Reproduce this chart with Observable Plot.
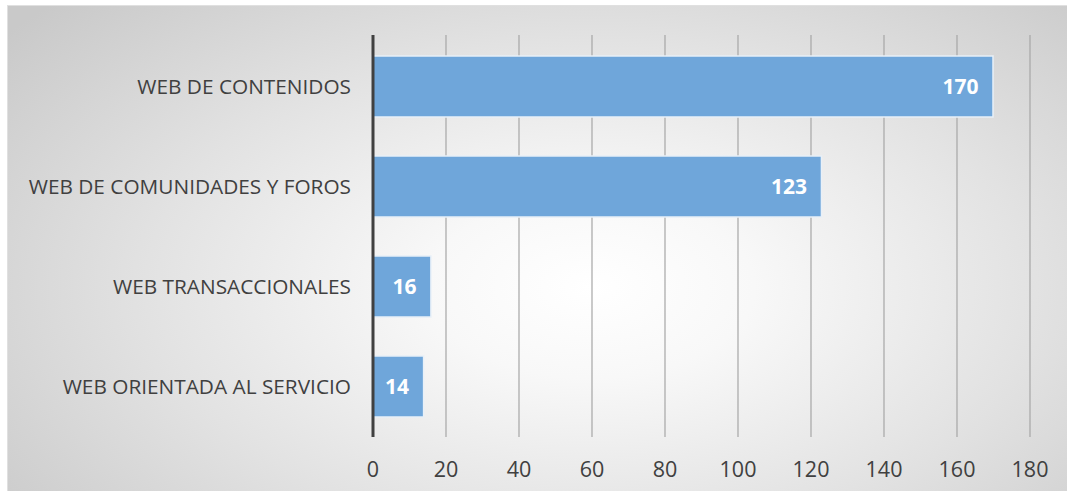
<!DOCTYPE html>
<html>
<head>
<meta charset="utf-8">
<script src="https://cdn.jsdelivr.net/npm/d3@7"></script>
<script src="https://cdn.jsdelivr.net/npm/@observablehq/plot@0.6"></script>
<style>
  html, body { margin: 0; padding: 0; background: #ffffff; }
  #wrap { position: relative; width: 1067px; height: 498px; overflow: hidden; }
  #bg {
    position: absolute; left: 7px; top: 5px; width: 1060px; height: 485px;
    background: radial-gradient(ellipse 70% 85% at 55% 58%, #ffffff 0%, #f8f8f8 22%, #e2e2e2 60%, #c9c9c9 100%);
    border-top: 1px solid #e0e0e0; border-left: 1px solid #e0e0e0;
  }
  #chart { position: absolute; left: 0; top: 0; }
</style>
</head>
<body>
<div id="wrap"><div id="bg"></div><div id="chart"></div></div>
<script>
const categories = ["WEB DE CONTENIDOS", "WEB DE COMUNIDADES Y FOROS", "WEB TRANSACCIONALES", "WEB ORIENTADA AL SERVICIO"];
const values = [170, 123, 16, 14];
const xTicks = [0, 20, 40, 60, 80, 100, 120, 140, 160, 180];

const data = categories.map((c, i) => ({category: c, value: values[i]}));

const chart = Plot.plot({
  width: 1067,
  height: 498,
  marginLeft: 372.5,
  marginRight: 37.5,
  marginTop: 35,
  marginBottom: 61,
  style: {background: "transparent", fontFamily: "'Open Sans', sans-serif"},
  x: {domain: [0, 180], ticks: xTicks, label: null},
  y: {domain: categories, label: null, paddingInner: 0.39, paddingOuter: 0.195},
  marks: [
    Plot.ruleX(xTicks.filter(d => d > 0), {stroke: "#a6a6a6", strokeWidth: 1.2}),
    Plot.barX(data, {x: "value", y: "category", fill: "#6fa6da", stroke: "#e8f0f8", strokeWidth: 1.5}),
    Plot.text(data, {x: "value", y: "category", text: d => String(d.value), textAnchor: "end", dx: -15, fill: "white", fontWeight: "bold", fontSize: 21}),
    Plot.ruleX([0], {stroke: "#404040", strokeWidth: 3}),
    Plot.axisX({ticks: xTicks, tickSize: 0, tickPadding: 24, fontSize: 21.5, fill: "#404040", label: null}),
    Plot.axisY({tickSize: 0, tickPadding: 22, fontSize: 20.8, fill: "#404040", label: null})
  ]
});
document.getElementById("chart").appendChild(chart);
</script>
</body>
</html>
